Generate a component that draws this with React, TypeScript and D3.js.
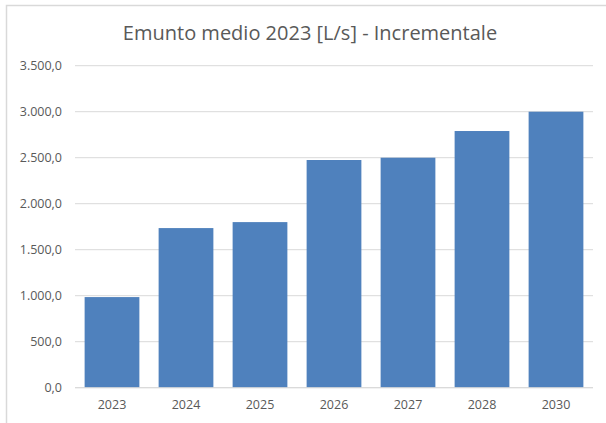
import { useEffect, useRef } from "react"
import * as d3 from "d3"

const years = ["2023", "2024", "2025", "2026", "2027", "2028", "2030"]
const emunto = [985, 1735, 1800, 2475, 2500, 2790, 3000]
const yTicks = [0, 500, 1000, 1500, 2000, 2500, 3000, 3500]
const title = "Emunto medio 2023 [L/s] - Incrementale"

const itFormat = d3.formatLocale({
  decimal: ",",
  thousands: ".",
  grouping: [3],
  currency: ["€", ""],
}).format(",.1f")

export default function App() {
  const svgRef = useRef<SVGSVGElement>(null)

  useEffect(() => {
    if (!svgRef.current) return
    const svg = d3.select(svgRef.current)
    svg.selectAll("*").remove()

    const width = 606
    const height = 423
    const margin = { top: 65.7, right: 13, bottom: 35.3, left: 75 }
    const font = "'Open Sans', sans-serif"

    svg.attr("width", width).attr("height", height)

    svg.append("rect").attr("width", width).attr("height", height).attr("fill", "#fff")

    // chart area border (cut off on right and bottom)
    svg
      .append("path")
      .attr("d", `M6.5,${height} V5.5 H${width}`)
      .attr("fill", "none")
      .attr("stroke", "#d9d9d9")
      .attr("stroke-width", 1.5)

    const x = d3
      .scaleBand()
      .domain(years)
      .range([margin.left, width - margin.right])
      .paddingInner(0.26)
      .paddingOuter(0.13)

    const y = d3
      .scaleLinear()
      .domain([0, 3500])
      .range([height - margin.bottom, margin.top])

    // gridlines
    svg
      .append("g")
      .selectAll("line")
      .data(yTicks)
      .enter()
      .append("line")
      .attr("x1", margin.left)
      .attr("x2", width - margin.right)
      .attr("y1", (d) => y(d))
      .attr("y2", (d) => y(d))
      .attr("stroke", "#d9d9d9")
      .attr("stroke-width", 1)

    // bars
    svg
      .append("g")
      .selectAll("rect")
      .data(emunto)
      .enter()
      .append("rect")
      .attr("x", (_, i) => x(years[i]) as number)
      .attr("width", x.bandwidth())
      .attr("y", (d) => y(d))
      .attr("height", (d) => y(0) - y(d))
      .attr("fill", "#4f81bd")

    // baseline
    svg
      .append("line")
      .attr("x1", margin.left)
      .attr("x2", width - margin.right)
      .attr("y1", y(0))
      .attr("y2", y(0))
      .attr("stroke", "#d9d9d9")
      .attr("stroke-width", 1)

    // y labels
    svg
      .append("g")
      .selectAll("text")
      .data(yTicks)
      .enter()
      .append("text")
      .attr("x", 62)
      .attr("y", (d) => y(d))
      .attr("dy", "0.35em")
      .attr("text-anchor", "end")
      .attr("font-family", font)
      .attr("font-size", 12.5)
      .attr("fill", "#595959")
      .text((d) => itFormat(d))

    // x labels
    svg
      .append("g")
      .selectAll("text")
      .data(years)
      .enter()
      .append("text")
      .attr("x", (d) => (x(d) as number) + x.bandwidth() / 2)
      .attr("y", 409)
      .attr("text-anchor", "middle")
      .attr("font-family", font)
      .attr("font-size", 12.5)
      .attr("fill", "#595959")
      .text((d) => d)

    // title
    svg
      .append("text")
      .attr("x", 310)
      .attr("y", 40)
      .attr("text-anchor", "middle")
      .attr("font-family", font)
      .attr("font-size", 20)
      .attr("fill", "#595959")
      .text(title)
  }, [])

  return (
    <div style={{ position: "absolute", left: 0, top: 0 }}>
      <svg ref={svgRef} style={{ display: "block" }} />
    </div>
  )
}
